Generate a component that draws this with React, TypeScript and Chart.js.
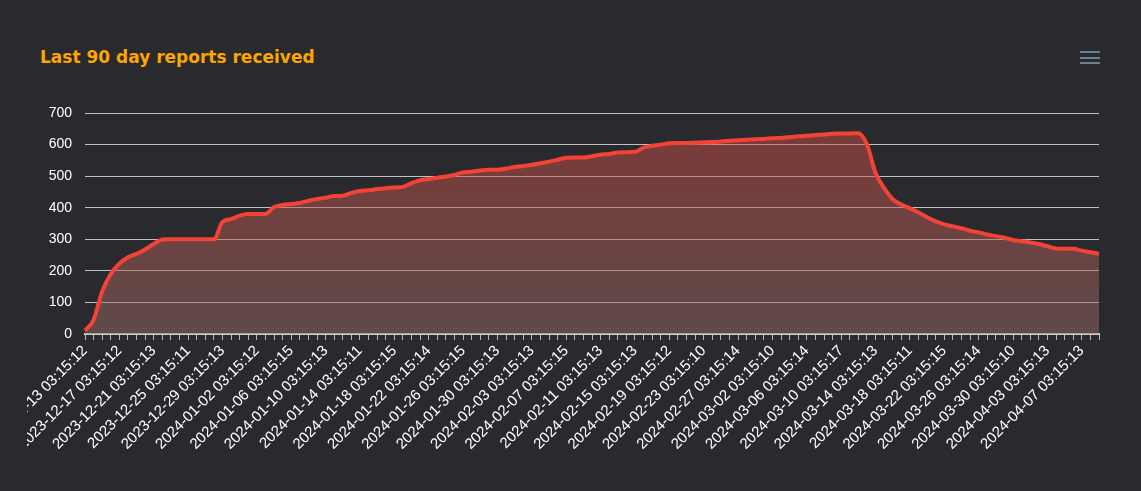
import React, { useEffect, useRef } from "react";
import { Chart, registerables } from "chart.js";

Chart.register(...registerables);

const TITLE = "Last 90 day reports received";

const labels: string[] = [
  "2023-12-13 03:15:12", "2023-12-14 03:15:11", "2023-12-15 03:15:13", "2023-12-16 03:15:12",
  "2023-12-17 03:15:12", "2023-12-18 03:15:14", "2023-12-19 03:15:12", "2023-12-20 03:15:11",
  "2023-12-21 03:15:13", "2023-12-22 03:15:12", "2023-12-23 03:15:14", "2023-12-24 03:15:12",
  "2023-12-25 03:15:11", "2023-12-26 03:15:13", "2023-12-27 03:15:12", "2023-12-28 03:15:14",
  "2023-12-29 03:15:13", "2023-12-30 03:15:12", "2023-12-31 03:15:11", "2024-01-01 03:15:13",
  "2024-01-02 03:15:12", "2024-01-03 03:15:14", "2024-01-04 03:15:13", "2024-01-05 03:15:12",
  "2024-01-06 03:15:15", "2024-01-07 03:15:12", "2024-01-08 03:15:13", "2024-01-09 03:15:11",
  "2024-01-10 03:15:13", "2024-01-11 03:15:12", "2024-01-12 03:15:14", "2024-01-13 03:15:12",
  "2024-01-14 03:15:11", "2024-01-15 03:15:13", "2024-01-16 03:15:12", "2024-01-17 03:15:14",
  "2024-01-18 03:15:15", "2024-01-19 03:15:13", "2024-01-20 03:15:12", "2024-01-21 03:15:11",
  "2024-01-22 03:15:14", "2024-01-23 03:15:13", "2024-01-24 03:15:12", "2024-01-25 03:15:13",
  "2024-01-26 03:15:15", "2024-01-27 03:15:12", "2024-01-28 03:15:14", "2024-01-29 03:15:11",
  "2024-01-30 03:15:13", "2024-01-31 03:15:12", "2024-02-01 03:15:14", "2024-02-02 03:15:12",
  "2024-02-03 03:15:13", "2024-02-04 03:15:11", "2024-02-05 03:15:12", "2024-02-06 03:15:14",
  "2024-02-07 03:15:15", "2024-02-08 03:15:13", "2024-02-09 03:15:12", "2024-02-10 03:15:11",
  "2024-02-11 03:15:13", "2024-02-12 03:15:12", "2024-02-13 03:15:14", "2024-02-14 03:15:12",
  "2024-02-15 03:15:13", "2024-02-16 03:15:11", "2024-02-17 03:15:12", "2024-02-18 03:15:14",
  "2024-02-19 03:15:12", "2024-02-20 03:15:13", "2024-02-21 03:15:11", "2024-02-22 03:15:12",
  "2024-02-23 03:15:10", "2024-02-24 03:15:13", "2024-02-25 03:15:12", "2024-02-26 03:15:11",
  "2024-02-27 03:15:14", "2024-02-28 03:15:12", "2024-02-29 03:15:13", "2024-03-01 03:15:11",
  "2024-03-02 03:15:10", "2024-03-03 03:15:12", "2024-03-04 03:15:13", "2024-03-05 03:15:11",
  "2024-03-06 03:15:14", "2024-03-07 03:15:12", "2024-03-08 03:15:13", "2024-03-09 03:15:15",
  "2024-03-10 03:15:17", "2024-03-11 03:15:12", "2024-03-12 03:15:13", "2024-03-13 03:15:11",
  "2024-03-14 03:15:13", "2024-03-15 03:15:12", "2024-03-16 03:15:14", "2024-03-17 03:15:12",
  "2024-03-18 03:15:11", "2024-03-19 03:15:13", "2024-03-20 03:15:12", "2024-03-21 03:15:14",
  "2024-03-22 03:15:15", "2024-03-23 03:15:12", "2024-03-24 03:15:13", "2024-03-25 03:15:11",
  "2024-03-26 03:15:14", "2024-03-27 03:15:12", "2024-03-28 03:15:13", "2024-03-29 03:15:11",
  "2024-03-30 03:15:10", "2024-03-31 03:15:12", "2024-04-01 03:15:14", "2024-04-02 03:15:12",
  "2024-04-03 03:15:13", "2024-04-04 03:15:11", "2024-04-05 03:15:12", "2024-04-06 03:15:14",
  "2024-04-07 03:15:13", "2024-04-08 03:15:12", "2024-04-09 03:15:11",
];

const reports: number[] = [
  10, 45, 135, 190, 223, 243, 254, 268, 285, 299,
  300, 300, 300, 300, 300, 300, 355, 364, 375, 380,
  380, 380, 402, 409, 412, 415, 422, 428, 432, 437,
  438, 447, 453, 455, 459, 462, 464, 466, 478, 487,
  491, 495, 499, 504, 512, 514, 518, 520, 520, 524,
  529, 532, 536, 541, 546, 552, 558, 559, 559, 563,
  568, 570, 575, 576, 577, 590, 596, 600, 604, 605,
  605, 606, 607, 608, 610, 612, 614, 615, 617, 618,
  620, 621, 623, 626, 628, 630, 632, 634, 635, 635,
  636, 600, 510, 462, 427, 410, 398, 385, 370, 357,
  347, 341, 335, 327, 322, 315, 310, 305, 298, 294,
  290, 285, 278, 271, 270, 270, 264, 259, 254,
];

const yTicks: number[] = [0, 100, 200, 300, 400, 500, 600, 700];

const BG = "#292a2d";
const FONT = "'Liberation Sans', Arial, Helvetica, sans-serif";
const TITLE_FONT = "'DejaVu Sans', Verdana, sans-serif";

export default function App() {
  const ref = useRef<HTMLCanvasElement | null>(null);

  useEffect(() => {
    if (!ref.current) return;
    const chart = new Chart(ref.current, {
      type: "line",
      data: {
        labels,
        datasets: [
          {
            label: "Reports",
            data: reports,
            borderColor: "#f44336",
            borderWidth: 4,
            pointRadius: 0,
            pointHoverRadius: 0,
            cubicInterpolationMode: "monotone",
            fill: "origin",
            backgroundColor: (ctx: any) => {
              const c = ctx.chart;
              const area = c.chartArea;
              if (!area) return "rgba(200,80,70,0.5)";
              const g = c.ctx.createLinearGradient(0, area.top, 0, area.bottom);
              g.addColorStop(0, "rgba(209,72,65,0.5)");
              g.addColorStop(1, "rgba(149,106,103,0.5)");
              return g;
            },
          },
        ],
      },
      options: {
        animation: false,
        responsive: false,
        layout: { padding: { top: 113, left: 0, right: 42, bottom: 0 } },
        plugins: {
          legend: { display: false },
          tooltip: { enabled: false },
        },
        scales: {
          x: {
            type: "category",
            afterFit: (s: any) => {
              s.height = 157;
              s.paddingLeft = 0;
              s.paddingRight = 0;
            },
            grid: {
              drawOnChartArea: false,
              drawTicks: true,
              tickLength: 6,
              tickColor: "#b8b8b8",
              tickWidth: 1,
            },
            border: { display: true, color: "#cfcfcf", width: 2 },
            ticks: {
              autoSkip: false,
              minRotation: 45,
              maxRotation: 45,
              padding: 2,
              color: "#ffffff",
              font: { family: FONT, size: 15 },
              callback: (_v: any, i: number) => (i % 4 === 0 ? labels[i] : ""),
            },
          },
          y: {
            min: 0,
            max: 700,
            afterFit: (s: any) => {
              s.width = 58;
            },
            afterBuildTicks: (s: any) => {
              s.ticks = yTicks.map((v) => ({ value: v }));
            },
            grid: {
              color: "#c2c2c2",
              lineWidth: 1,
              drawTicks: false,
            },
            border: { display: false },
            ticks: {
              padding: 13,
              color: "#ffffff",
              font: { family: FONT, size: 14 },
            },
          },
        },
      },
    });
    return () => chart.destroy();
  }, []);

  return (
    <div
      style={{
        position: "fixed",
        left: 0,
        top: 0,
        width: 1141,
        height: 491,
        background: BG,
        overflow: "hidden",
      }}
    >
      <div
        style={{
          position: "absolute",
          left: 40,
          top: 46,
          fontFamily: TITLE_FONT,
          fontWeight: 700,
          fontSize: 17,
          lineHeight: "22px",
          color: "#ffa500",
          whiteSpace: "nowrap",
        }}
      >
        {TITLE}
      </div>
      <div style={{ position: "absolute", left: 1080, top: 51, width: 20, height: 14 }}>
        {[0, 5.5, 11].map((t) => (
          <div
            key={t}
            style={{
              position: "absolute",
              left: 0,
              top: t,
              width: 20,
              height: 2,
              background: "#6e8192",
            }}
          />
        ))}
      </div>
      <canvas
        ref={ref}
        width={1114}
        height={491}
        style={{ position: "absolute", left: 27, top: 0, width: 1114, height: 491 }}
      />
    </div>
  );
}
